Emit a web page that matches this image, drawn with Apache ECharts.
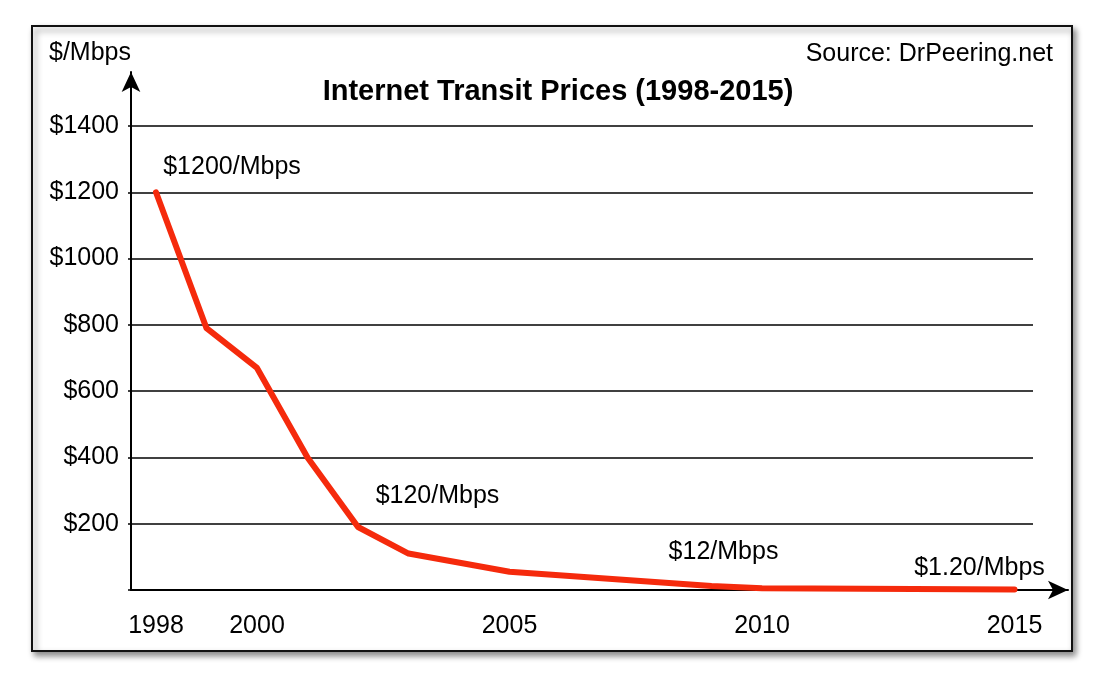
<!DOCTYPE html>
<html>
<head>
<meta charset="utf-8">
<script src="https://cdn.jsdelivr.net/npm/echarts@6/dist/echarts.min.js"></script>
<style>
  html, body { margin: 0; padding: 0; background: #fff; }
  #main { width: 1116px; height: 687px; }
</style>
</head>
<body>
<div id="main"></div>
<script>
// price per Mbps
var years = [1998, 1999, 2000, 2001, 2002, 2003, 2005, 2009, 2010, 2015];
var prices = [1200, 790, 670, 400, 190, 110, 55, 12, 5, 1.2];
var notes = ['$1200/Mbps', '', '', '', '', '$120/Mbps', '', '$12/Mbps', '', '$1.20/Mbps'];
var yearTicks = [1998, 2000, 2005, 2010, 2015];
var priceTicks = [200, 400, 600, 800, 1000, 1200, 1400];

var FONT = 'Liberation Sans';
// where each note sits relative to its point
var noteOffsets = [[76, -7], null, null, null, null, [29, -39], null, [12, -16], null, [-35, -3]];

var data = years.map(function (y, i) {
  var item = { value: [y, prices[i]] };
  if (notes[i]) {
    item.label = {
      show: true,
      formatter: notes[i],
      position: 'top',
      offset: noteOffsets[i]
    };
  }
  return item;
});

var chart = echarts.init(document.getElementById('main'));
chart.setOption({
  animation: false,
  textStyle: { fontFamily: FONT, color: '#000' },
  graphic: [{
    type: 'rect',
    z: -10,
    silent: true,
    shape: { x: 32, y: 26, width: 1040, height: 625 },
    style: {
      fill: '#fff', stroke: '#111', lineWidth: 2,
      shadowBlur: 6, shadowOffsetX: 3, shadowOffsetY: 4, shadowColor: 'rgba(0,0,0,0.45)'
    }
  }],
  title: [{
    text: 'Internet Transit Prices (1998-2015)',
    left: 'center', top: 77, padding: 0,
    textStyle: { fontFamily: FONT, fontSize: 29, fontWeight: 'bold', color: '#000' }
  }, {
    text: 'Source: DrPeering.net',
    right: 63, top: 42, padding: 0,
    textStyle: { fontFamily: FONT, fontSize: 25, fontWeight: 'normal', color: '#000' }
  }],
  grid: [
    { left: 131, right: 83, top: 126, bottom: 97 },
    { left: 131, right: 48, top: 72, bottom: 97 }
  ],
  xAxis: [{
    type: 'value', gridIndex: 0,
    min: 1997.505, max: 2015.366,
    axisLine: { show: false },
    axisTick: { show: false },
    splitLine: { show: false },
    axisLabel: {
      customValues: yearTicks, margin: 24,
      fontSize: 25, color: '#000', fontFamily: FONT,
      formatter: function (v) { return String(v); }
    }
  }, {
    type: 'value', gridIndex: 1, min: 0, max: 1,
    axisLine: { show: true, symbol: ['none', 'arrow'], symbolSize: [14, 20], lineStyle: { color: '#000', width: 2 } },
    axisTick: { show: false }, axisLabel: { show: false }, splitLine: { show: false }
  }],
  yAxis: [{
    type: 'value', gridIndex: 0,
    min: 0, max: 1400, interval: 200,
    axisLine: { show: false },
    axisTick: { show: true, length: 3, lineStyle: { color: '#000', width: 1.5 } },
    splitLine: { show: true, lineStyle: { color: '#000', width: 1.5 } },
    axisLabel: {
      margin: 12, fontSize: 25, color: '#000', fontFamily: FONT,
      formatter: function (v) { return v === 0 ? '' : '$' + v; }
    }
  }, {
    type: 'value', gridIndex: 1, min: 0, max: 1,
    name: '$/Mbps', nameLocation: 'end', nameGap: 19,
    nameTextStyle: { fontSize: 25, color: '#000', fontFamily: FONT, align: 'right', verticalAlign: 'middle' },
    axisLine: { show: true, symbol: ['none', 'arrow'], symbolSize: [14, 20], lineStyle: { color: '#000', width: 2 } },
    axisTick: { show: false }, axisLabel: { show: false }, splitLine: { show: false }
  }],
  series: [{
    type: 'line',
    xAxisIndex: 0, yAxisIndex: 0,
    data: data,
    showSymbol: true, showAllSymbol: true,
    symbol: 'circle', symbolSize: 1,
    itemStyle: { color: '#f52a0c' },
    lineStyle: { color: '#f52a0c', width: 6, cap: 'round', join: 'round' },
    label: { color: '#000', fontSize: 25, fontFamily: FONT },
    z: 5
  }]
});
</script>
</body>
</html>
